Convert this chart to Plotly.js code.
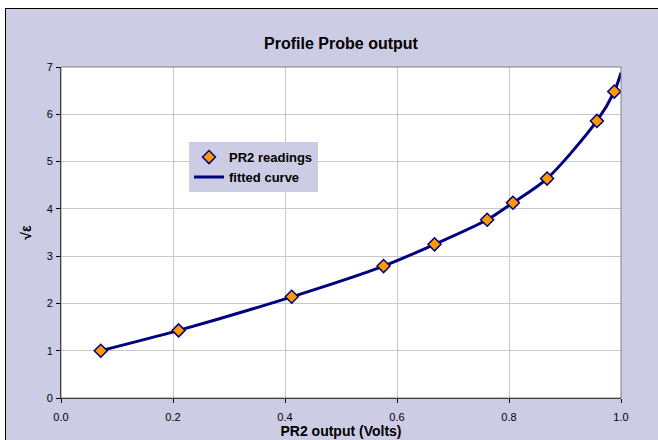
<!DOCTYPE html>
<html>
<head>
<meta charset="utf-8">
<script src="https://cdn.plot.ly/plotly-3.0.1.min.js"></script>
<style>
html,body{margin:0;padding:0;background:#ffffff;width:658px;height:440px;overflow:hidden;}
#frame{position:absolute;left:5px;top:8px;width:660px;height:440px;border-left:1px solid #000;border-top:1px solid #000;background:#CCCCE4;}
#chart{position:absolute;left:6px;top:9px;width:652px;height:431px;}
</style>
</head>
<body>
<div id="frame"></div>
<div id="chart"></div>
<script>
// PR2 readings
const readingsX = [0.071, 0.21, 0.412, 0.576, 0.667, 0.761, 0.807, 0.868, 0.957, 0.988];
const readingsY = [1.00, 1.43, 2.14, 2.79, 3.25, 3.77, 4.13, 4.64, 5.86, 6.48];
// fitted curve
const curveX = [0.071, 0.21, 0.412, 0.576, 0.667, 0.761, 0.807, 0.868, 0.957, 0.988, 1.0];
const curveY = [1.00, 1.43, 2.14, 2.79, 3.25, 3.77, 4.13, 4.64, 5.86, 6.48, 6.88];
const xTicks = [0.0, 0.2, 0.4, 0.6, 0.8, 1.0];
const yTicks = [0, 1, 2, 3, 4, 5, 6, 7];

const FONT = 'Arial, "Liberation Sans", sans-serif';
const traces = [
  {
    x: curveX, y: curveY, type: 'scatter', mode: 'lines', name: 'fitted curve',
    line: {color: '#000080', width: 3, shape: 'spline', smoothing: 0.8},
    hoverinfo: 'skip'
  },
  {
    x: readingsX, y: readingsY, type: 'scatter', mode: 'markers', name: 'PR2 readings',
    marker: {symbol: 'diamond', size: 10, color: '#FF9900', line: {color: '#000080', width: 1.5}}
  }
];

const layout = {
  width: 652, height: 431,
  paper_bgcolor: '#CCCCE4',
  plot_bgcolor: '#FFFFFF',
  margin: {l: 55, r: 37, t: 58, b: 42},
  font: {family: FONT, size: 11, color: '#000000'},
  title: {
    text: '<b>Profile Probe output</b>',
    font: {family: FONT, size: 16, color: '#000000'},
    x: 0.5, xref: 'paper', xanchor: 'center',
    y: 1 - 34/431, yref: 'container', yanchor: 'middle'
  },
  showlegend: true,
  legend: {
    x: 0.2286, y: 0.773, xanchor: 'left', yanchor: 'top',
    bgcolor: '#CCCCE4', borderwidth: 0,
    font: {family: FONT, size: 13, color: '#000000', weight: 'bold'},
    traceorder: 'reversed', itemwidth: 30, tracegroupgap: 0
  },
  xaxis: {
    range: [0, 1.0], tickvals: xTicks, ticktext: xTicks.map(v => v.toFixed(1)),
    showgrid: true, gridcolor: '#C8C8C8', gridwidth: 1,
    showline: true, linecolor: '#000000', linewidth: 1,
    ticks: 'outside', ticklen: 4, tickcolor: '#000000', ticklabelstandoff: 5,
    tickfont: {family: FONT, size: 11, color: '#000000'},
    zeroline: false,
    title: {text: '<b>PR2 output (Volts)</b>', font: {family: FONT, size: 14, color: '#000000'}, standoff: 2}
  },
  yaxis: {
    range: [0, 7], tickvals: yTicks,
    showgrid: true, gridcolor: '#C8C8C8', gridwidth: 1,
    showline: true, linecolor: '#000000', linewidth: 1,
    ticks: 'outside', ticklen: 4, tickcolor: '#000000', ticklabelstandoff: 1,
    tickfont: {family: FONT, size: 11, color: '#000000'},
    zeroline: false,
    title: {text: '<b>√ε</b>', font: {family: FONT, size: 14, color: '#000000'}, standoff: 11}
  },
  shapes: [
    {type: 'rect', xref: 'paper', yref: 'paper', x0: 0, x1: 1, y0: 0, y1: 1,
     line: {color: '#808080', width: 1}, fillcolor: 'rgba(0,0,0,0)', layer: 'above'}
  ]
};

Plotly.newPlot('chart', traces, layout, {displayModeBar: false, staticPlot: true});
</script>
</body>
</html>
